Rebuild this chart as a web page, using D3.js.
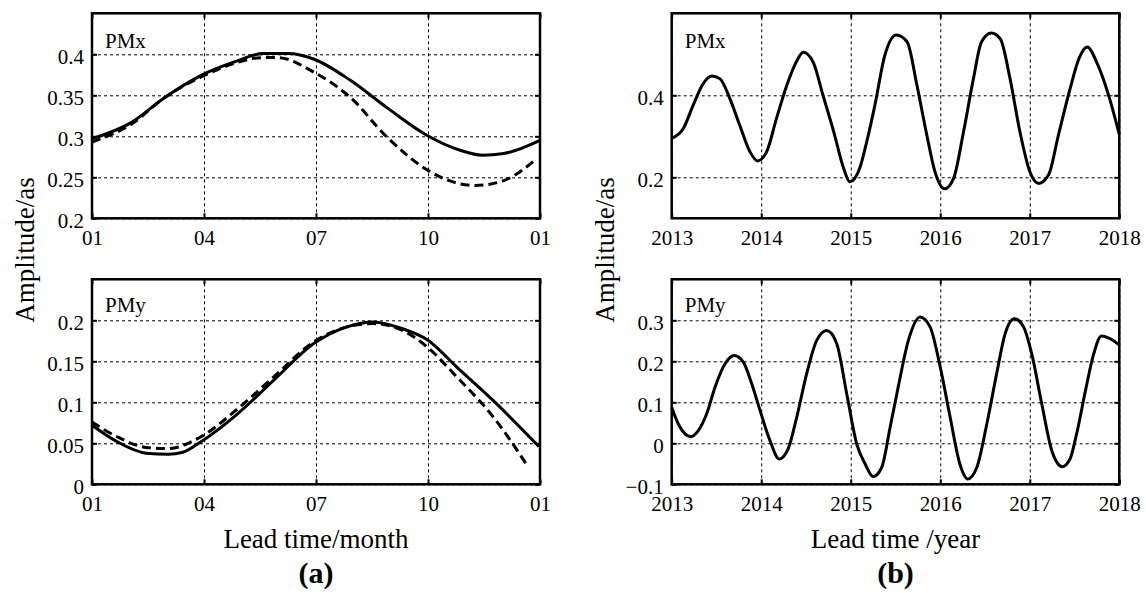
<!DOCTYPE html>
<html>
<head>
<meta charset="utf-8">
<script src="https://cdn.jsdelivr.net/npm/d3@7"></script>
<style>
  body { margin: 0; background: #fff; }
  svg { display: block; font-family: "Liberation Serif", "Times New Roman", serif; }
</style>
</head>
<body>
<div id="chart"></div>
<script>
// (a) one year, solid and dashed curves, month index 0..12
const monthTicks = [0, 3, 6, 9, 12];
const monthLabels = ["01", "04", "07", "10", "01"];

const pmxMonthSolid = [0, 1.06, 1.94, 2.91, 3.89, 4.58, 5.26, 5.95, 6.93, 7.9, 8.98, 9.86, 10.45, 11.03, 12];
const pmxSolid = [0.297, 0.317, 0.347, 0.374, 0.392, 0.401, 0.401, 0.394, 0.368, 0.335, 0.301, 0.283, 0.277, 0.279, 0.295];
const pmxMonthDash = [0, 1.06, 1.94, 2.91, 3.89, 4.58, 4.97, 5.95, 6.93, 7.9, 8.98, 9.86, 10.26, 11.03, 11.92];
const pmxDash = [0.293, 0.315, 0.347, 0.372, 0.390, 0.396, 0.396, 0.378, 0.347, 0.299, 0.259, 0.242, 0.240, 0.246, 0.273];

const pmyMonthSolid = [0, 0.67, 1.45, 2.04, 2.43, 2.92, 3.90, 4.87, 5.95, 6.83, 7.52, 8.30, 8.99, 9.77, 10.75, 11.97];
const pmySolid = [0.072, 0.052, 0.038, 0.0366, 0.039, 0.052, 0.086, 0.127, 0.172, 0.192, 0.198, 0.190, 0.176, 0.143, 0.102, 0.046];
const pmyMonthDash = [0, 0.67, 1.45, 2.04, 2.92, 3.90, 4.87, 5.95, 6.83, 7.52, 8.30, 8.99, 9.77, 10.75, 11.63];
const pmyDash = [0.076, 0.058, 0.045, 0.0435, 0.058, 0.092, 0.131, 0.174, 0.192, 0.196, 0.188, 0.167, 0.131, 0.082, 0.025];

// (b) five years
const yearTicks = [2013, 2014, 2015, 2016, 2017, 2018];

const pmxYears = [2013, 2013.13, 2013.24, 2013.35, 2013.45, 2013.54, 2013.65, 2013.76, 2013.875, 2013.96,
  2014.06, 2014.17, 2014.285, 2014.40, 2014.47, 2014.58, 2014.69, 2014.81, 2014.92, 2014.99,
  2015.10, 2015.16, 2015.27, 2015.38, 2015.51, 2015.63, 2015.74, 2015.85, 2015.94,
  2016.05, 2016.15, 2016.26, 2016.37, 2016.46, 2016.57, 2016.67, 2016.78, 2016.89,
  2017.00, 2017.10, 2017.21, 2017.32, 2017.45, 2017.55, 2017.64, 2017.76, 2017.89, 2018];
const pmxLong = [0.295, 0.319, 0.376, 0.428, 0.447, 0.440, 0.392, 0.327, 0.262, 0.240,
  0.262, 0.343, 0.424, 0.485, 0.505, 0.481, 0.400, 0.311, 0.222, 0.189,
  0.222, 0.270, 0.376, 0.497, 0.547, 0.530, 0.424, 0.303, 0.214,
  0.172, 0.198, 0.311, 0.440, 0.530, 0.552, 0.538, 0.440, 0.311,
  0.214, 0.185, 0.206, 0.303, 0.416, 0.490, 0.518, 0.474, 0.393, 0.304];

const pmyYears = [2013, 2013.074, 2013.149, 2013.212, 2013.297, 2013.391, 2013.484, 2013.596, 2013.696, 2013.80,
  2013.894, 2013.987, 2014.098, 2014.20, 2014.30, 2014.397, 2014.508, 2014.62, 2014.732, 2014.844,
  2014.955, 2015.067, 2015.16, 2015.25, 2015.346, 2015.44, 2015.53, 2015.644, 2015.774, 2015.886,
  2016.0, 2016.11, 2016.22, 2016.307, 2016.408, 2016.52, 2016.63, 2016.724, 2016.828, 2016.93,
  2017.022, 2017.134, 2017.246, 2017.364, 2017.45, 2017.52, 2017.63, 2017.71, 2017.80, 2017.90, 2018];
const pmyLong = [0.088, 0.047, 0.023, 0.016, 0.031, 0.072, 0.137, 0.194, 0.214, 0.198,
  0.145, 0.080, 0.0065, -0.038, -0.014, 0.064, 0.170, 0.251, 0.275, 0.243,
  0.121, -0.002, -0.050, -0.081, -0.059, 0.039, 0.137, 0.251, 0.308, 0.284,
  0.186, 0.064, -0.051, -0.087, -0.059, 0.047, 0.170, 0.267, 0.304, 0.284,
  0.218, 0.096, -0.018, -0.057, -0.038, 0.020, 0.137, 0.215, 0.262, 0.255, 0.240];

const W = 1146, H = 593;
const svg = d3.select("#chart").append("svg")
  .attr("width", W)
  .attr("height", H);

const zip = (xs, ys) => xs.map((d, i) => [d, ys[i]]);

const panels = [
  { left: 92, top: 13.3, w: 448, h: 205, xDomain: [0, 12], xTicks: monthTicks, xFmt: (d, i) => monthLabels[i],
    yDomain: [0.2, 0.45], yTicks: [0.2, 0.25, 0.3, 0.35, 0.4], name: "PMx",
    series: [{ data: zip(pmxMonthSolid, pmxSolid) }, { data: zip(pmxMonthDash, pmxDash), dash: "9,5" }] },
  { left: 92, top: 279.3, w: 448, h: 205, xDomain: [0, 12], xTicks: monthTicks, xFmt: (d, i) => monthLabels[i],
    yDomain: [0, 0.25], yTicks: [0, 0.05, 0.1, 0.15, 0.2], name: "PMy",
    series: [{ data: zip(pmyMonthSolid, pmySolid) }, { data: zip(pmyMonthDash, pmyDash), dash: "9,5" }] },
  { left: 671.7, top: 13.3, w: 447.6, h: 205, xDomain: [2013, 2018], xTicks: yearTicks, xFmt: d3.format("d"),
    yDomain: [0.1, 0.6], yTicks: [0.2, 0.4], name: "PMx",
    series: [{ data: zip(pmxYears, pmxLong) }] },
  { left: 671.7, top: 279.3, w: 447.6, h: 205, xDomain: [2013, 2018], xTicks: yearTicks, xFmt: d3.format("d"),
    yDomain: [-0.1, 0.4], yTicks: [-0.1, 0, 0.1, 0.2, 0.3], name: "PMy",
    series: [{ data: zip(pmyYears, pmyLong) }] }
];

panels.forEach(p => {
  const g = svg.append("g").attr("transform", `translate(${p.left},${p.top})`);
  const x = d3.scaleLinear().domain(p.xDomain).range([0, p.w]);
  const y = d3.scaleLinear().domain(p.yDomain).range([p.h, 0]);

  // grid
  g.append("g")
    .call(d3.axisLeft(y).tickValues(p.yTicks).tickSize(-p.w).tickFormat(""))
    .call(a => a.select(".domain").remove())
    .selectAll("line").attr("stroke", "#000").attr("stroke-width", 1).attr("stroke-dasharray", "3,3");
  g.append("g")
    .attr("transform", `translate(0,${p.h})`)
    .call(d3.axisBottom(x).tickValues(p.xTicks).tickSize(-p.h).tickFormat(""))
    .call(a => a.select(".domain").remove())
    .selectAll("line").attr("stroke", "#000").attr("stroke-width", 1).attr("stroke-dasharray", "3,3");

  // curves
  const line = d3.line().x(d => x(d[0])).y(d => y(d[1])).curve(d3.curveMonotoneX);
  p.series.forEach(s => {
    g.append("path")
      .datum(s.data)
      .attr("fill", "none")
      .attr("stroke", "#000")
      .attr("stroke-width", 3)
      .attr("stroke-dasharray", s.dash || null)
      .attr("d", line);
  });

  // axes with inward ticks
  const yAx = g.append("g")
    .call(d3.axisLeft(y).tickValues(p.yTicks).tickSize(-5).tickPadding(8).tickFormat(d3.format("")));
  yAx.select(".domain").remove();
  yAx.selectAll("line").attr("stroke-width", 2);
  yAx.selectAll("text").attr("font-size", 21).attr("dy", "0.42em").attr("fill", "#000")
    .style("font-family", "Liberation Serif");

  const yAxR = g.append("g").attr("transform", `translate(${p.w},0)`)
    .call(d3.axisRight(y).tickValues(p.yTicks).tickSize(-5).tickFormat(""));
  yAxR.select(".domain").remove();
  yAxR.selectAll("line").attr("stroke-width", 2);

  const xAx = g.append("g").attr("transform", `translate(0,${p.h})`)
    .call(d3.axisBottom(x).tickValues(p.xTicks).tickSize(-5).tickPadding(12).tickFormat(p.xFmt));
  xAx.select(".domain").remove();
  xAx.selectAll("line").attr("stroke-width", 2);
  xAx.selectAll("text").attr("font-size", 21).attr("fill", "#000")
    .style("font-family", "Liberation Serif");

  const xAxT = g.append("g")
    .call(d3.axisTop(x).tickValues(p.xTicks).tickSize(-5).tickFormat(""));
  xAxT.select(".domain").remove();
  xAxT.selectAll("line").attr("stroke-width", 2);

  // frame
  g.append("rect")
    .attr("width", p.w).attr("height", p.h)
    .attr("fill", "none").attr("stroke", "#000").attr("stroke-width", 2.5);

  g.append("text")
    .attr("x", 13).attr("y", p.top < 100 ? 35 : 33)
    .attr("font-size", 21)
    .text(p.name);
});

// axis titles
[{ x: 92 - 58, cx: 316, label: "Lead time/month", tag: "(a)" },
 { x: 671.7 - 58, cx: 895.5, label: "Lead time /year", tag: "(b)" }].forEach(c => {
  svg.append("text")
    .attr("transform", `translate(${c.x},250) rotate(-90)`)
    .attr("text-anchor", "middle")
    .attr("font-size", 27)
    .text("Amplitude/as");
  svg.append("text")
    .attr("x", c.cx).attr("y", 548)
    .attr("text-anchor", "middle")
    .attr("font-size", 27)
    .text(c.label);
  svg.append("text")
    .attr("x", c.cx).attr("y", 583)
    .attr("text-anchor", "middle")
    .attr("font-size", 30)
    .attr("font-weight", "bold")
    .text(c.tag);
});
</script>
</body>
</html>
